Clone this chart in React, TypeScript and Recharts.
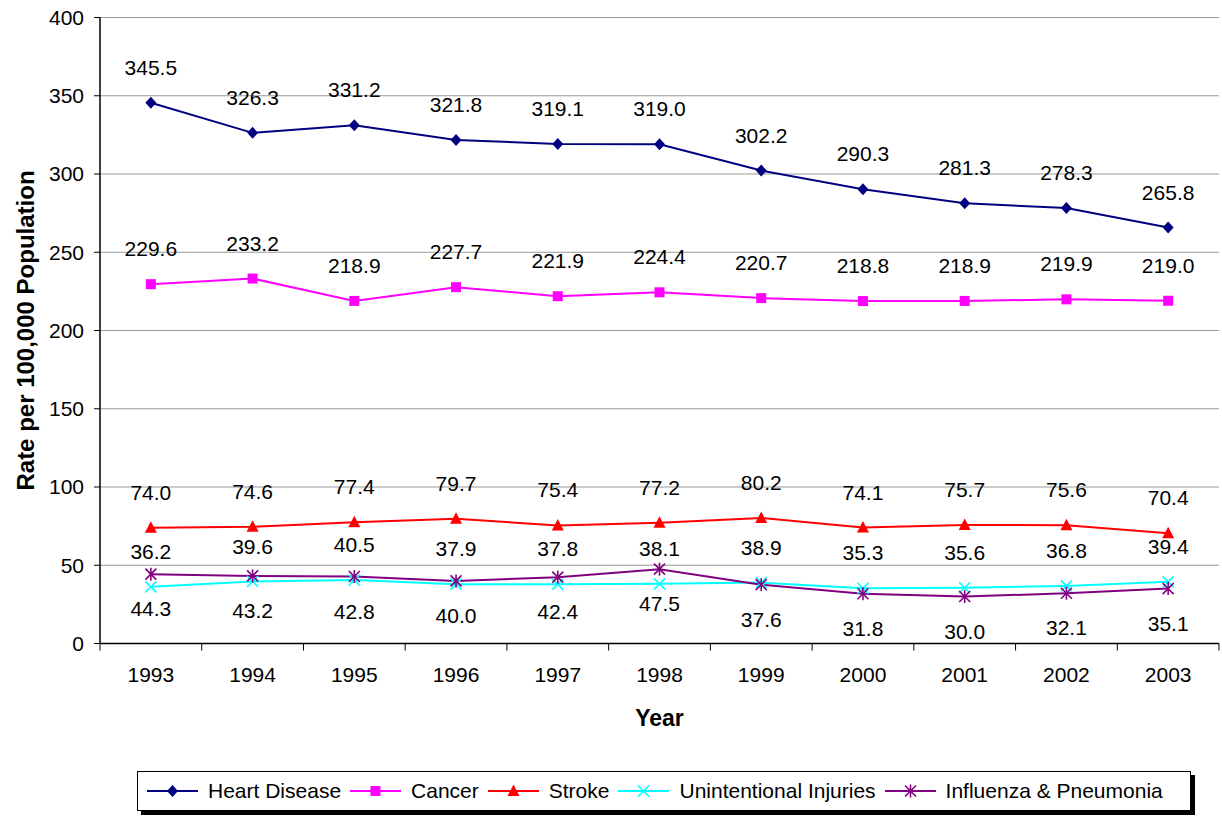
import React from 'react';
import { LineChart, Line, XAxis, YAxis, CartesianGrid, LabelList } from 'recharts';

const years = ['1993', '1994', '1995', '1996', '1997', '1998', '1999', '2000', '2001', '2002', '2003'];
const heartDisease = [345.5, 326.3, 331.2, 321.8, 319.1, 319.0, 302.2, 290.3, 281.3, 278.3, 265.8];
const cancer = [229.6, 233.2, 218.9, 227.7, 221.9, 224.4, 220.7, 218.8, 218.9, 219.9, 219.0];
const stroke = [74.0, 74.6, 77.4, 79.7, 75.4, 77.2, 80.2, 74.1, 75.7, 75.6, 70.4];
const injuries = [36.2, 39.6, 40.5, 37.9, 37.8, 38.1, 38.9, 35.3, 35.6, 36.8, 39.4];
const influenza = [44.3, 43.2, 42.8, 40.0, 42.4, 47.5, 37.6, 31.8, 30.0, 32.1, 35.1];
const yTicks = [0, 50, 100, 150, 200, 250, 300, 350, 400];

const FONT = '"Liberation Sans", Arial, sans-serif';
const HALF_BAND = 50.85;

type Shape = 'diamond' | 'square' | 'triangle' | 'x' | 'star';

const series: { key: string; name: string; color: string; shape: Shape; below?: boolean }[] = [
  { key: 'heart', name: 'Heart Disease', color: '#000080', shape: 'diamond' },
  { key: 'cancer', name: 'Cancer', color: '#FF00FF', shape: 'square' },
  { key: 'stroke', name: 'Stroke', color: '#FF0000', shape: 'triangle' },
  { key: 'injuries', name: 'Unintentional Injuries', color: '#00FFFF', shape: 'x' },
  { key: 'influenza', name: 'Influenza & Pneumonia', color: '#800080', shape: 'star', below: true },
];

const data = years.map((year, i) => ({
  year,
  heart: heartDisease[i],
  cancer: cancer[i],
  stroke: stroke[i],
  injuries: injuries[i],
  influenza: influenza[i],
}));

const Marker = ({ cx, cy, shape, color }: { cx: number; cy: number; shape: Shape; color: string }) => {
  switch (shape) {
    case 'diamond':
      return <polygon points={`${cx},${cy - 6} ${cx + 5.5},${cy} ${cx},${cy + 6} ${cx - 5.5},${cy}`} fill={color} />;
    case 'square':
      return <rect x={cx - 5} y={cy - 5} width={10} height={10} fill={color} />;
    case 'triangle':
      return <polygon points={`${cx},${cy - 6.5} ${cx + 6},${cy + 5} ${cx - 6},${cy + 5}`} fill={color} />;
    case 'x':
      return (
        <g stroke={color} strokeWidth={1.6}>
          <line x1={cx - 5.5} y1={cy - 5.5} x2={cx + 5.5} y2={cy + 5.5} />
          <line x1={cx - 5.5} y1={cy + 5.5} x2={cx + 5.5} y2={cy - 5.5} />
        </g>
      );
    default:
      return (
        <g stroke={color} strokeWidth={1.6}>
          <line x1={cx - 5.5} y1={cy - 5.5} x2={cx + 5.5} y2={cy + 5.5} />
          <line x1={cx - 5.5} y1={cy + 5.5} x2={cx + 5.5} y2={cy - 5.5} />
          <line x1={cx} y1={cy - 6.5} x2={cx} y2={cy + 6.5} />
        </g>
      );
  }
};

const makeDot = (shape: Shape, color: string) => (p: any) => (
  <g key={`dot-${shape}-${p.index}`}>
    <Marker cx={p.cx} cy={p.cy} shape={shape} color={color} />
  </g>
);

const makeLabel = (below?: boolean) => (p: any) => {
  const { x, y, value, index } = p;
  return (
    <text
      key={`lbl-${index}`}
      x={x}
      y={below ? y + 42 : y - 28}
      textAnchor="middle"
      fontSize={21}
      fontFamily={FONT}
      fill="#000"
    >
      {Number(value).toFixed(1)}
    </text>
  );
};

// category label plus Excel-style tick marks between categories
const YearTick = (p: any) => {
  const { x, y, payload, index } = p;
  const last = index === years.length - 1;
  return (
    <g>
      <line x1={x - HALF_BAND} y1={y} x2={x - HALF_BAND} y2={y + 7} stroke="#000" />
      {last && <line x1={x + HALF_BAND} y1={y} x2={x + HALF_BAND} y2={y + 7} stroke="#000" />}
      <text x={x} y={y + 38.5} textAnchor="middle" fontSize={21} fontFamily={FONT} fill="#000">
        {payload.value}
      </text>
    </g>
  );
};

const Legend = () => (
  <div
    style={{
      position: 'absolute',
      left: 137,
      top: 771,
      width: 1043,
      height: 38,
      border: '1px solid #000',
      background: '#fff',
      boxShadow: '4px 4px 0 #000',
      display: 'flex',
      alignItems: 'center',
      paddingLeft: 9,
      boxSizing: 'content-box',
      fontFamily: FONT,
      fontSize: 21,
    }}
  >
    {series.map((s) => (
      <div key={s.key} style={{ display: 'flex', alignItems: 'center', marginRight: 9 }}>
        <svg width={51} height={20} style={{ marginRight: 10 }}>
          <line x1={0} y1={10} x2={51} y2={10} stroke={s.color} strokeWidth={2} />
          <Marker cx={25.5} cy={10} shape={s.shape} color={s.color} />
        </svg>
        <span>{s.name}</span>
      </div>
    ))}
  </div>
);

export default function App() {
  return (
    <div style={{ position: 'absolute', left: 0, top: 0, width: 1222, height: 818, background: '#fff' }}>
      <LineChart width={1222} height={818} data={data} margin={{ top: 17.5, right: 3, bottom: 94.5, left: 0 }}>
        <CartesianGrid vertical={false} stroke="#999" strokeWidth={1} />
        <XAxis
          dataKey="year"
          height={80}
          padding={{ left: HALF_BAND, right: HALF_BAND }}
          axisLine={{ stroke: '#000', strokeWidth: 1.5 }}
          tickLine={false}
          tickSize={0}
          tickMargin={0}
          tick={<YearTick />}
          interval={0}
          label={{
            content: (p: any) => (
              <text
                x={p.viewBox.x + p.viewBox.width / 2}
                y={p.viewBox.y + 82}
                textAnchor="middle"
                fontSize={23}
                fontWeight="bold"
                fontFamily={FONT}
              >
                Year
              </text>
            ),
          }}
        />
        <YAxis
          domain={[0, 400]}
          ticks={yTicks}
          width={100}
          tickSize={6}
          tickMargin={10}
          axisLine={{ stroke: '#000', strokeWidth: 1.5 }}
          tickLine={{ stroke: '#000' }}
          tick={{ fontSize: 21, fontFamily: FONT, fill: '#000' }}
          label={{
            content: (p: any) => {
              const cx = 25;
              const cy = p.viewBox.y + p.viewBox.height / 2;
              return (
                <text
                  x={cx}
                  y={cy}
                  transform={`rotate(-90 ${cx} ${cy})`}
                  textAnchor="middle"
                  dominantBaseline="central"
                  fontSize={24}
                  fontWeight="bold"
                  fontFamily={FONT}
                >
                  Rate per 100,000 Population
                </text>
              );
            },
          }}
        />
        <YAxis
          yAxisId="right"
          orientation="right"
          domain={[0, 400]}
          width={0}
          tick={false}
          tickLine={false}
          axisLine={{ stroke: '#999' }}
        />
        {series.map((s) => (
          <Line
            key={s.key}
            dataKey={s.key}
            name={s.name}
            stroke={s.color}
            strokeWidth={2}
            dot={makeDot(s.shape, s.color)}
            activeDot={false}
            isAnimationActive={false}
          >
            <LabelList dataKey={s.key} content={makeLabel(s.below)} />
          </Line>
        ))}
      </LineChart>
      <Legend />
    </div>
  );
}
